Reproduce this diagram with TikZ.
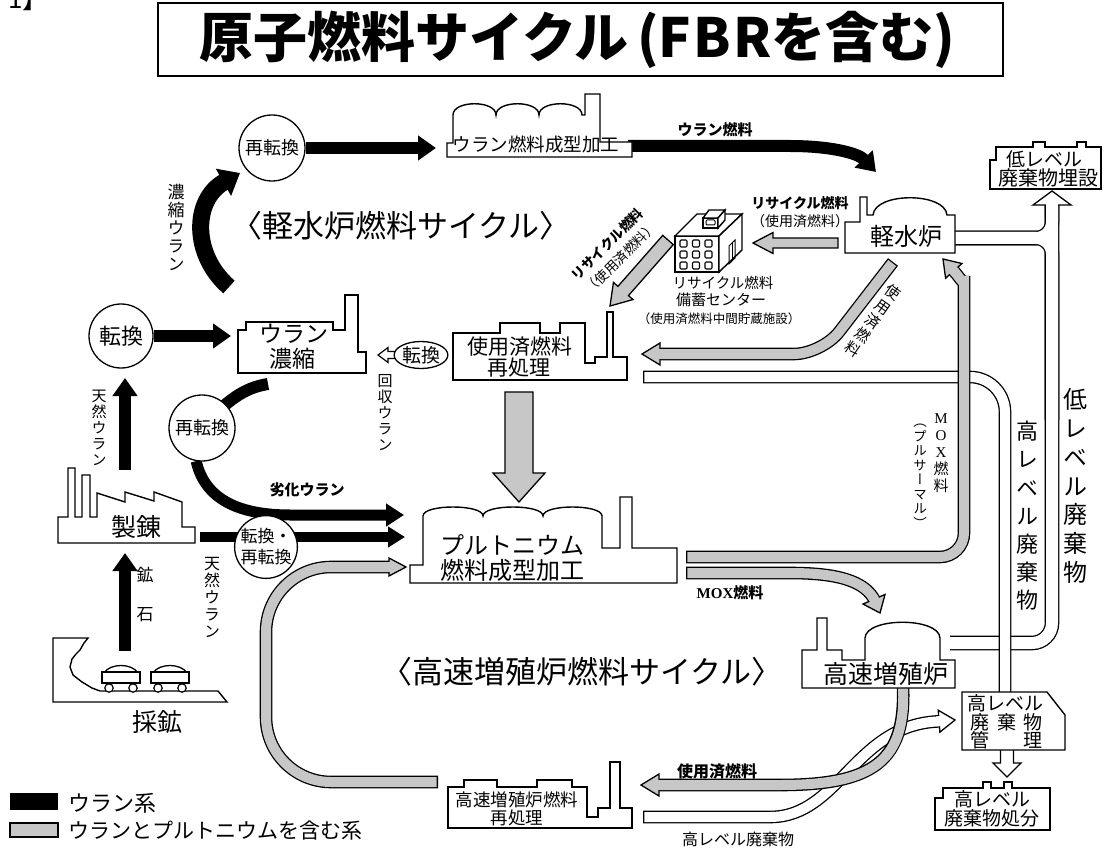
\documentclass[tikz,border=0pt]{standalone}
\usepackage{fontspec}
\setmainfont{Noto Sans CJK JP}
\newfontfamily\jpv{Noto Sans CJK JP}[RawFeature=+vert]
\newfontfamily\mox{Liberation Serif}
\usetikzlibrary{arrows.meta,calc,shapes.geometric}
\pgfdeclarelayer{back}
\pgfdeclarelayer{flows}
\pgfsetlayers{back,flows,main}
\newcommand\fs[1]{\fontsize{#1}{#1}\selectfont}
\colorlet{dotc}{black!22}
% straight block arrow: #1 tail, #2 tip, #3 half shaft, #4 half head, #5 head length, #6 style
\newcommand{\blockarrow}[6]{%
  \coordinate (ba) at ($(#2)!#5!(#1)$);
  \draw[#6] ($(#1)!#3!90:(#2)$) -- ($(ba)!#3!90:(#2)$) -- ($(ba)!#4!90:(#2)$) -- (#2)
    -- ($(ba)!#4!-90:(#2)$) -- ($(ba)!#3!-90:(#2)$) -- ($(#1)!#3!-90:(#2)$) -- cycle;}
% head of an outlined pipe: #1 tip, #2 point behind it, #3 half width, #4 length, #5 fill, #6 pipe inner width
\newcommand{\pipehead}[6]{%
  \coordinate (hb) at ($(#1)!#4!(#2)$);
  \draw[line width=1.3pt, fill=#5, line join=miter] ($(hb)!#3!90:(#1)$) -- (#1) -- ($(hb)!#3!-90:(#1)$) -- cycle;
  \draw[line width=#6, #5, line cap=butt] ($(hb)!2.5pt!(#2)$) -- ($(hb)!1.6pt!(#1)$);}
% outlined pipe along a path: #1 inner colour, #2 path
\newcommand{\pipe}[2]{%
  \draw[line width=12.6pt, line cap=butt] #2;
  \draw[line width=10pt, #1, line cap=butt, shorten <=1.3pt] #2;}
\begin{document}
\begin{tikzpicture}[x=1pt,y=-1pt,
  bld/.style={draw, line width=1.4pt, fill=white, line join=miter},
  ring/.style={draw, circle, line width=1.3pt, fill=white, inner sep=0pt},
  blk/.style={line width=12pt, line cap=butt, -{Triangle[width=24pt,length=18pt]}},
  tx/.style={inner sep=0pt, align=center}]
\useasboundingbox (0,0) rectangle (1105,850);
\begin{pgfonlayer}{back}
  \fill[white] (0,0) rectangle (1105,850);
\end{pgfonlayer}

% ---------- title ----------
\node[draw, line width=1.6pt, minimum width=845pt, minimum height=73pt, inner sep=0pt] (titlebox) at (580.5,39.5) {};
\node[tx, font=\bfseries\fs{54}] (title) at (577,40) {原子燃料サイクル\hspace{9pt}(F\hspace{2pt}B\hspace{2pt}Rを含む)};
\node[inner sep=0pt, anchor=base west, font=\fs{26}] (num) at (8,9) {1】};

% ---------- uranium fuel fabrication ----------
\draw[bld] (447,157) -- (447,143) -- (453,143) -- (453,115)
  .. controls +(0,-15) and +(0,-15) .. (496,115)
  .. controls +(0,-15) and +(0,-15) .. (539,115)
  .. controls +(0,-15) and +(0,-15) .. (582,115)
  -- (585,115) -- (585,94) -- (600,94) -- (600,142) -- (632,142) -- (632,157) -- cycle;
\node[tx, font=\fs{18.5}] (ufab) at (536,144) {ウラン燃料成型加工};

% ---------- light water reactor ----------
\draw[bld] (845,253) -- (845,222) -- (860,222) -- (860,197) -- (867,197) -- (867,215) -- (873,215)
  .. controls (875,192) and (945,192) .. (947,215) -- (955,215) -- (955,253) -- cycle;
\node[tx, font=\fs{24}] (lwr) at (906,236) {軽水炉};

% ---------- low level waste burial ----------
\draw[bld] (990,189) -- (990,160) -- (996,160) -- (996,147) -- (1033,147) -- (1033,142) -- (1045,142)
  -- (1045,147) -- (1077,147) -- (1077,142) -- (1086,142) -- (1086,147) -- (1101,147) -- (1101,189) -- cycle;
\node[tx, font=\fs{19}, anchor=west] (llw1) at (1006,159) {低レベル};
\node[tx, font=\fs{20}] (llw2) at (1048,178) {廃棄物埋設};

% ---------- recycle fuel storage centre ----------
\draw[bld] (675,236) rectangle (719,272);
\draw[bld] (675,236) -- (697,214) -- (742,214) -- (719,236) -- cycle;
\draw[bld] (719,236) -- (742,214) -- (742,250) -- (719,272) -- cycle;
\draw[bld] (703,218) rectangle (718,228);
\draw[bld] (703,218) -- (709,210) -- (725,210) -- (718,218) -- cycle;
\draw[bld] (718,218) -- (725,210) -- (725,220) -- (718,228) -- cycle;
\draw[line width=1pt, rounded corners=1pt] (706,220) rectangle (715,225);
\foreach \wx in {680,692.5,705} \foreach \wy in {240,251,262}
  \draw[line width=1.1pt, rounded corners=1.2pt] (\wx,\wy) rectangle ++(7,7);
\draw[line width=1pt] (729,246) -- (735,240) -- (735,258) -- (729,264) -- cycle;
\draw[line width=0.8pt] (732,243) -- (732,261);
\node[tx, font=\fs{14.5}] (rc1) at (723,283) {リサイクル燃料};
\node[tx, font=\fs{15}] (rc2) at (721,300) {備蓄センター};
\node[tx, font=\fs{12.5}] (rc3) at (719,319) {（使用済燃料中間貯蔵施設）};

% ---------- enrichment ----------
\draw[bld] (238,373) -- (238,330) -- (246,330) -- (246,322) -- (333,322) -- (333,330) -- (345,330)
  -- (345,295) -- (358,295) -- (358,352) -- (366,352) -- (366,373) -- cycle;
\node[tx, font=\fs{23}] (enr1) at (294,334) {ウラン};
\node[tx, font=\fs{23}] (enr2) at (292,359) {濃縮};

% ---------- reprocessing ----------
\draw[bld] (453,380) -- (453,333) -- (500,333) -- (500,323) -- (540,323) -- (540,333) -- (560,333)
  -- (560,323) -- (585,323) -- (585,363) -- (595,363) -- (595,357) -- (607,357) -- (607,312)
  -- (613,312) -- (613,357) -- (627,357) -- (627,380) -- cycle;
\node[tx, font=\fs{21}] (rep1) at (520,347) {使用済燃料};
\node[tx, font=\fs{21}] (rep2) at (519,368) {再処理};

% ---------- plutonium fuel fabrication ----------
\draw[bld] (410,583) -- (410,565) -- (423,565) -- (423,516)
  .. controls +(0,-12) and +(0,-12) .. (483,516)
  .. controls +(0,-12) and +(0,-12) .. (543,516)
  .. controls +(0,-12) and +(0,-12) .. (602,516)
  -- (602,548) -- (620,548) -- (620,497) -- (632,497) -- (632,548) -- (677,548) -- (677,583) -- cycle;
\node[tx, font=\fs{24}] (pu1) at (512,545) {プルトニウム};
\node[tx, font=\fs{24}] (pu2) at (512,570) {燃料成型加工};

% ---------- refining ----------
\draw[bld] (58,543) -- (58,517) -- (68,517) -- (68,468) -- (75,468) -- (75,517) -- (82,517) -- (82,475)
  -- (90,475) -- (90,517) -- (97,517) -- (97,493) -- (125,502) -- (125,492) -- (154,501) -- (154,492)
  -- (182,502) -- (182,527) -- (195,527) -- (195,543) -- cycle;
\node[tx, font=\fs{25}] (smelt) at (136,527) {製錬};

% ---------- mine ----------
\draw[bld] (53,638) -- (88,638) -- (84,643) -- (80,650) -- (76,654) -- (72,659) -- (70,667) -- (73,675)
  -- (82,682) -- (92,688) -- (100,691) -- (218,691) -- (227,702) -- (53,702) -- cycle;
\foreach \cx in {102,151} {
  \draw[line width=1.3pt, fill=white] (\cx+2,673) .. controls (\cx+8,663) and (\cx+30,663) .. (\cx+36,673);
  \draw[line width=1.3pt, fill=white] (\cx,672) rectangle (\cx+38,683);
  \draw[line width=1.2pt, fill=white] (\cx+7,688) circle (4.2);
  \draw[line width=1.2pt, fill=white] (\cx+31,688) circle (4.2);
}
\node[tx, font=\fs{25}] (mine) at (157,722) {採鉱};

% ---------- fast breeder reactor ----------
\draw[bld] (802,688) -- (802,650) -- (817,650) -- (817,618) -- (827,618) -- (827,650) -- (842,650)
  -- (842,660) -- (865,660) -- (865,638) .. controls (866,617) and (939,617) .. (940,638)
  -- (940,660) -- (955,660) -- (955,688) -- cycle;
\node[tx, font=\fs{25}] (fbr) at (886,674) {高速増殖炉};

% ---------- FBR fuel reprocessing ----------
\draw[bld] (448,828) -- (448,787) -- (464,787) -- (464,780) -- (497,780) -- (497,787) -- (537,787)
  -- (537,780) -- (572,780) -- (572,787) -- (587,787) -- (587,817) -- (598,817) -- (598,808)
  -- (610,808) -- (610,762) -- (620,762) -- (620,808) -- (632,808) -- (632,828) -- cycle;
\node[tx, font=\fs{17.5}] (fr1) at (517,800) {高速増殖炉燃料};
\node[tx, font=\fs{17.5}] (fr2) at (517,818) {再処理};

% ---------- high level waste management / disposal ----------
\draw[bld] (962,692) -- (1047,692) -- (1065,715) -- (1065,750) -- (962,750) -- cycle;
\node[tx, font=\fs{19}, anchor=west] (hm1) at (967,703) {高レベル};
\node[tx, font=\fs{19}] (hm2) at (980,722) {廃};
\node[tx, font=\fs{19}] (hm3) at (1007,722) {棄};
\node[tx, font=\fs{19}] (hm4) at (1033,722) {物};
\node[tx, font=\fs{19}] (hm5) at (980,740) {管};
\node[tx, font=\fs{19}] (hm6) at (1033,740) {理};
\draw[bld] (935,830) -- (935,798) -- (943,798) -- (943,788) -- (983,788) -- (983,782) -- (991,782)
  -- (991,788) -- (1004,788) -- (1004,782) -- (1012,782) -- (1012,788) -- (1050,788) -- (1050,830) -- cycle;
\node[tx, font=\fs{19}] (hd1) at (992,799) {高レベル};
\node[tx, font=\fs{19}] (hd2) at (992,818) {廃棄物処分};

% ---------- conversion stations ----------
\node[ring, minimum size=66pt, font=\fs{18}] (rt1) at (272,148) {再転換};
\node[ring, minimum size=64pt, font=\fs{22}] (tk1) at (121,336) {転換};
\node[ring, minimum size=66pt, font=\fs{18}] (rt2) at (202,428) {再転換};
\node[ring, minimum size=62pt, font=\fontsize{17}{21}\selectfont, align=center] (tk2) at (266,547) {転換・\\再転換};
\node[draw, ellipse, line width=1.3pt, fill=white, minimum width=47pt, minimum height=27pt, inner sep=0pt, font=\fs{19}] (tk3) at (421,355) {転換};

% ---------- cycle captions ----------
\node[tx, font=\fs{31}] (lwrcycle) at (401,226) {〈軽水炉燃料サイクル〉};
\node[tx, font=\fs{31}] (fbrcycle) at (582,672) {〈高速増殖炉燃料サイクル〉};

% ---------- flow labels ----------
\node[tx, font=\bfseries\fs{15}] (l-ufuel) at (715,130) {ウラン燃料};
\node[tx, font=\bfseries\fs{15}] (l-dep) at (307,490) {劣化ウラン};
\node[tx, font=\bfseries\fs{15}] (l-mox) at (730,593) {{\mox MOX}燃料};
\node[tx, font=\bfseries\fs{16}] (l-fsf) at (717,771) {使用済燃料};
\node[tx, font=\fs{16}] (l-hlw) at (738,839) {高レベル廃棄物};
\node[tx, font=\fontsize{14}{18}\selectfont] (l-rec) at (800,212) {{\bfseries リサイクル燃料}\\（使用済燃料）};
\node[tx, font=\fontsize{13.5}{19}\selectfont, rotate=45] (l-rec2) at (614,251) {{\bfseries リサイクル燃料}\\（使用済燃料）};
\node[tx, font=\jpv\fontsize{17}{18}\selectfont] (l-enr) at (176,227) {濃\\縮\\ウ\\ラ\\ン};
\node[tx, font=\jpv\fontsize{15}{16}\selectfont] (l-nat1) at (99,428) {天\\然\\ウ\\ラ\\ン};
\node[tx, font=\jpv\fontsize{16}{17}\selectfont] (l-nat2) at (212,597) {天\\然\\ウ\\ラ\\ン};
\node[tx, font=\jpv\fontsize{15}{16}\selectfont] (l-rcu) at (385,413) {回\\収\\ウ\\ラ\\ン};
\node[tx, font=\fs{17}] (ore1) at (145,575) {鉱};
\node[tx, font=\fs{17}] (ore2) at (145,615) {石};
\node[tx, font=\jpv\fontsize{24}{28.7}\selectfont] (l-llw) at (1075,486) {低\\レ\\ベ\\ル\\廃\\棄\\物};
\node[tx, font=\jpv\fontsize{22}{28.2}\selectfont] (l-hlw2) at (1027,516) {高\\レ\\ベ\\ル\\廃\\棄\\物};
\node[tx, font=\jpv\fontsize{15}{17}\selectfont] (l-mox1) at (941,453) {{\mox M}\\{\mox O}\\{\mox X}\\燃\\料};
\node[tx, font=\jpv\fontsize{13.5}{14.5}\selectfont] (l-mox2) at (920,476) {（\\プ\\ル\\サ\\ー\\マ\\ル\\）};
\node[tx, font=\jpv\fontsize{15}{17.4}\selectfont, rotate=-35] (l-lwrsf) at (873,321) {使\\用\\済\\燃\\料};

% ---------- legend ----------
\node[fill, minimum width=48pt, minimum height=17pt, inner sep=0pt] (legU) at (34,801.5) {};
\node[draw, fill=dotc, line width=1.2pt, minimum width=48pt, minimum height=14pt, inner sep=0pt] (legP) at (34,830) {};
\node[tx, font=\fs{22}, anchor=west] (leg1) at (68,803) {ウラン系};
\node[tx, font=\fs{21}, anchor=west] (leg2) at (68,831) {ウランとプルトニウムを含む系};

% ================= flows =================
\begin{pgfonlayer}{flows}
% named ports
\coordinate (ufab-in) at (436,148);
\coordinate (ufab-out) at (628,146);
\coordinate (lwr-in) at (876,172);
\coordinate (enr-in) at (231,336);
\coordinate (smelt-top) at (125,470);
\coordinate (tk1-in) at (125,378);
\coordinate (mine-top) at (125,651);
\coordinate (smelt-in) at (125,553);
\coordinate (smelt-out) at (200,537);
\coordinate (pu-in1) at (405,537);
\coordinate (pu-in2) at (404,515);
\coordinate (enr-out) at (268,384);
\coordinate (enr-top) at (229,287);
\coordinate (rt1-in) at (240,173);

% low level waste pipes (white)
\coordinate (llw-top) at (1052,205);
\coordinate (llw-lwr) at (950,238);
\coordinate (llw-fbr) at (950,643);
\foreach \w/\c in {14.6pt/black, 12pt/white} {
  \draw[line width=\w, \c, line cap=butt] (llw-top) [rounded corners=20pt] |- (llw-fbr);
  \draw[line width=\w, \c, line cap=butt] (llw-lwr) [rounded corners=16pt] -| (llw-top);
  \draw[line width=\w, \c, line cap=butt] (llw-lwr) [rounded corners=16pt] -| (1052,420);
}
\pipehead{1052,191}{1052,230}{19pt}{14pt}{white}{12pt}

% high level waste from reprocessing
\coordinate (hlw-rep) at (643,377);
\coordinate (hlw-mgmt) at (1005,694);
\pipe{white}{(hlw-rep) [rounded corners=35pt] -| (hlw-mgmt)}

% high level waste from FBR reprocessing
\coordinate (hlw-fr) at (643,817);
\coordinate (hlw-in) at (955,720);
\pipe{white}{(hlw-fr) -- (770,817) .. controls (840,817) and (855,723) .. (941,721.3)}
\pipehead{hlw-in}{935,721.5}{11pt}{16pt}{white}{10pt}

% small white arrows
\blockarrow{399,355}{378,355}{3.5pt}{7.5pt}{10pt}{line width=1.2pt, fill=white, line join=miter}
\blockarrow{1007,749}{1007,777}{6.5pt}{14pt}{14pt}{line width=1.3pt, fill=white, line join=miter}

% MOX fuel to light water reactor (pluthermal)
\coordinate (mox1-out) at (686,557);
\coordinate (mox1-tip) at (943,259);
\pipe{dotc}{(mox1-out) [rounded corners=24pt] -| (964,300) [sharp corners] .. controls (964,287) and (962,280) .. (953,270)}
\pipehead{mox1-tip}{962,280}{11pt}{16pt}{dotc}{10pt}

% MOX fuel to FBR
\coordinate (mox2-out) at (686,573);
\coordinate (mox2-tip) at (880,613);
\pipe{dotc}{(mox2-out) -- (790,573) .. controls (835,573) and (865,580) .. (875,601)}
\pipehead{mox2-tip}{870,590}{12pt}{15pt}{dotc}{10pt}

% spent fuel from light water reactor
\coordinate (lwr-sf) at (893,262);
\coordinate (rep-in) at (642,354);
\pipe{dotc}{(lwr-sf) [rounded corners=28pt] -- (822,354) -- (656,354)}
\pipehead{rep-in}{680,354}{11pt}{18pt}{dotc}{10pt}

% spent fuel from FBR
\coordinate (fbr-sf) at (903,686);
\coordinate (fr-in) at (641,785);
\pipe{dotc}{(fbr-sf) .. controls (906,760) and (875,785) .. (780,785) -- (655,785)}
\pipehead{fr-in}{680,785}{11pt}{18pt}{dotc}{10pt}

% recovered plutonium loop back to fabrication
\coordinate (fr-out) at (438,782);
\coordinate (pu-in3) at (406,567);
\pipe{dotc}{(fr-out) [rounded corners=65pt] -- (266,782) -- (266,567) -- (392,567)}
\pipehead{pu-in3}{380,567}{9pt}{17pt}{dotc}{10pt}

% straight stippled block arrows
\coordinate (lwr-rec) at (838,243);
\coordinate (rec-in) at (753,243);
\coordinate (rec-out) at (668,240);
\coordinate (rep-in2) at (610,306);
\coordinate (rep-out) at (519,392);
\coordinate (pu-top) at (519,502);
\blockarrow{lwr-rec}{rec-in}{5pt}{10.5pt}{20pt}{line width=1.3pt, fill=dotc, line join=miter}
\blockarrow{rec-out}{rep-in2}{7pt}{13pt}{20pt}{line width=1.3pt, fill=dotc, line join=miter}
\blockarrow{rep-out}{pu-top}{14pt}{26pt}{29pt}{line width=1.3pt, fill=dotc, line join=miter}

% uranium flows (black)
\draw[blk] (rt1.east) -- (ufab-in);
\draw[blk] (ufab-out) -- (790,146) .. controls (830,146) and (858,153) .. (lwr-in);
\draw[line width=17pt, line cap=butt, -{Triangle[width=30pt,length=19pt]}] (enr-top) .. controls (192,255) and (192,200) .. (rt1-in);
\draw[blk] (tk1.east) -- (enr-in);
\draw[blk] (smelt-top) -- (tk1-in);
\draw[blk] (mine-top) -- (smelt-in);
\draw[line width=10pt, line cap=butt, -{Triangle[width=20pt,length=17pt]}] (smelt-out) -- (pu-in1);
\draw[line width=12pt, line cap=butt] (enr-out) .. controls (250,387) and (232,394) .. (rt2.center);
\draw[line width=11pt, line cap=butt, -{Triangle[width=22pt,length=18pt]}] (rt2.260) .. controls (205,500) and (240,515) .. (290,515) -- (pu-in2);
\end{pgfonlayer}
\end{tikzpicture}
\end{document}
